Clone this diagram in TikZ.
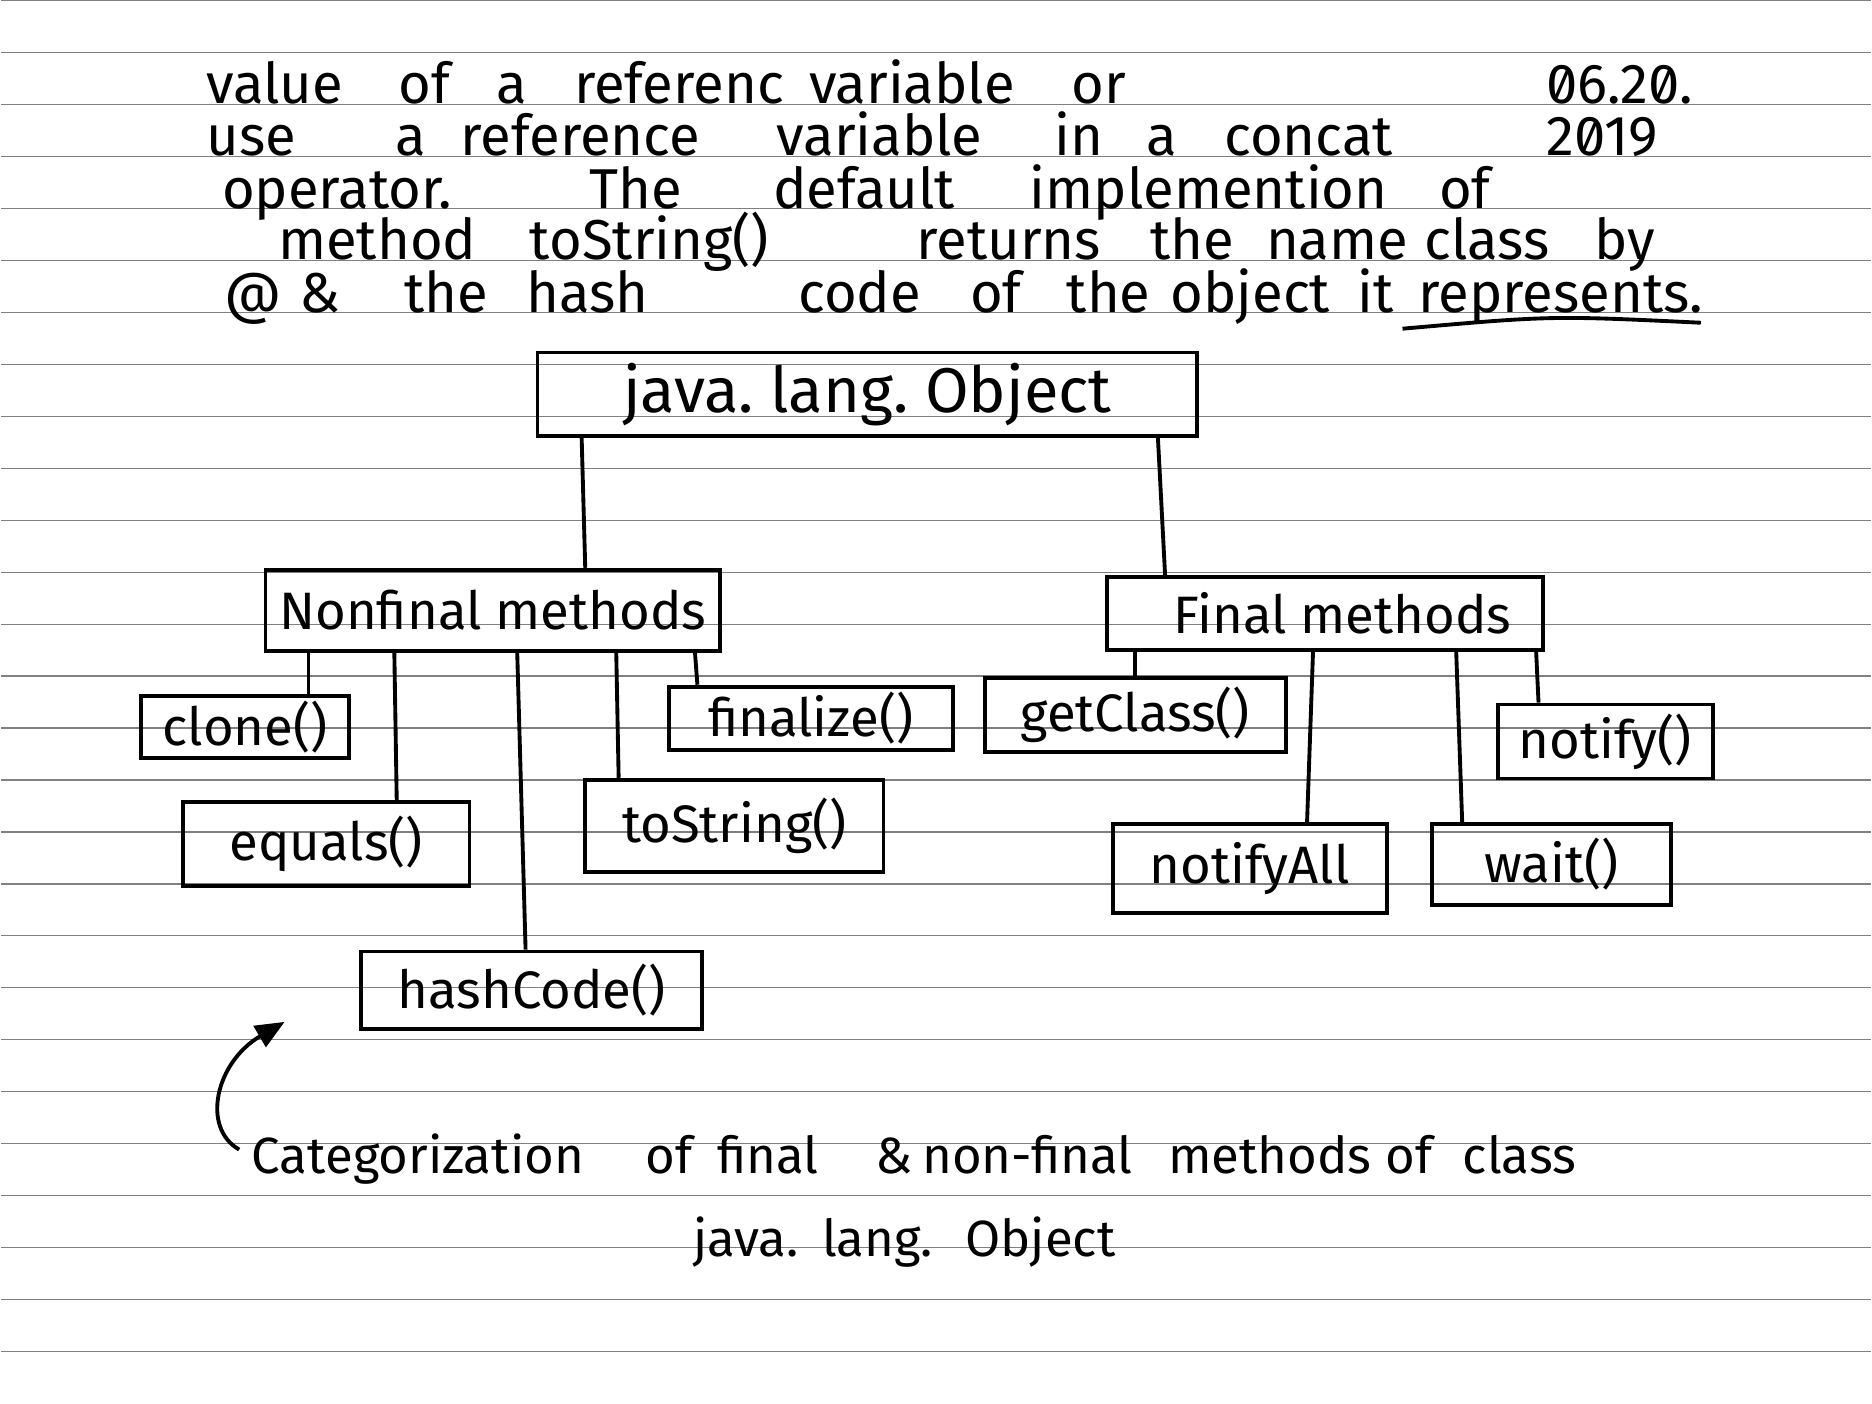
\documentclass[tikz,border=0pt]{standalone}
\usepackage{fontspec}
\setmainfont{Fira Sans}
\newfontfamily\datefont[RawFeature=+zero]{Fira Sans}
\usetikzlibrary{arrows.meta}
\newlength\ux
\setlength\ux{0.1194mm}
\begin{document}
\begin{tikzpicture}[x=0.1194mm, y=-0.1194mm,
  rule/.style={draw=black!50, line width=0.35pt},
  box/.style={draw, line width=1.1pt, inner sep=0pt, font=\fontsize{15}{18}\selectfont},
  bigbox/.style={box, font=\fontsize{18}{21}\selectfont},
  conn/.style={line width=1.1pt},
  word/.style={anchor=base west, inner sep=0pt, font=\fontsize{16}{19}\selectfont},
  capword/.style={anchor=base west, inner sep=0pt, font=\fontsize{14.5}{17}\selectfont}]
% page and ruled lines
\fill[white] (0,0) rectangle (1568,1176);
\foreach \k in {0,...,26} \draw[rule] (0,{\k*43.55}) -- (1568,{\k*43.55});

% top text
\foreach \x/\w [count=\i] in {172/value, 333/of, 415/a, 480/referenc, 677/variable, 897/or}
  \node[word] (la\i) at (\x,86) {\w};
\node[word, font=\fontsize{16}{19}\datefont] (date1) at (1295,86) {06.20.};
\foreach \x/\w [count=\i] in {172/use, 330/a, 385/reference, 650/variable, 883/in, 960/a, 1025/concat}
  \node[word] (lb\i) at (\x,130) {\w};
\node[word, font=\fontsize{16}{19}\datefont] (date2) at (1295,130) {2019};
\foreach \x/\w [count=\i] in {185/operator., 493/The, 647/default, 862/implemention, 1205/of}
  \node[word] (lc\i) at (\x,174) {\w};
\foreach \x/\w [count=\i] in {232/method, 443/toString(), 767/returns, 963/the, 1060/name, 1193/class, 1335/by}
  \node[word] (ld\i) at (\x,217) {\w};
\foreach \x/\w [count=\i] in {187/@, 250/\&, 338/the, 440/hash, 668/code, 812/of, 893/the, 980/object, 1137/it, 1188/represents.}
  \node[word] (le\i) at (\x,261) {\w};
\draw[conn] (1175,275) .. controls (1300,264) .. (1425,270);

% boxes
\node[bigbox, minimum width=553\ux, minimum height=70\ux] (obj) at (726.5,330) {java.\ lang.\ Object};
\node[box, minimum width=381\ux, minimum height=68\ux] (nf) at (412.5,511) {Nonfinal methods};
\node[box, minimum width=366\ux, minimum height=61\ux] (fm) at (1110,513.5) {\hspace*{3.5mm}Final methods};
\node[box, minimum width=174\ux, minimum height=52\ux] (clone) at (205,609) {clone()};
\node[box, minimum width=240\ux, minimum height=70\ux] (equals) at (273,707) {equals()};
\node[box, minimum width=286\ux, minimum height=65\ux] (hash) at (445,829.5) {hashCode()};
\node[box, minimum width=250\ux, minimum height=77\ux] (tostr) at (615,691.5) {toString()};
\node[box, minimum width=238\ux, minimum height=53\ux] (final) at (679,601.5) {finalize()};
\node[box, minimum width=252\ux, minimum height=62\ux] (getc) at (951,599) {getClass()};
\node[box, minimum width=180\ux, minimum height=62\ux] (notify) at (1345,621) {notify()};
\node[box, minimum width=230\ux, minimum height=75\ux] (nall) at (1047,727.5) {notifyAll};
\node[box, minimum width=200\ux, minimum height=68\ux] (wait) at (1300,724) {wait()};

% connectors
\draw[conn] (obj.south -| 487,0) -- (nf.north -| 490,0);
\draw[conn] (obj.south -| 970,0) -- (fm.north -| 976,0);
\draw[conn] (nf.south -| 258,0) -- (clone.north -| 258,0);
\draw[conn] (nf.south -| 330,0) -- (equals.north -| 332,0);
\draw[conn] (nf.south -| 433,0) -- (hash.north -| 440,0);
\draw[conn] (nf.south -| 516,0) -- (tostr.north -| 518,0);
\draw[conn] (nf.south -| 582,0) -- (final.north -| 584,0);
\draw[conn] (fm.south -| 951,0) -- (getc.north -| 951,0);
\draw[conn] (fm.south -| 1100,0) -- (nall.north -| 1095,0);
\draw[conn] (fm.south -| 1220,0) -- (wait.north -| 1225,0);
\draw[conn] (fm.south -| 1287,0) -- (notify.north -| 1289,0);

% caption and arrow
\foreach \x/\w [count=\i] in {210/Categorization, 540/of, 600/final, 733/\&, 772/non-final, 978/methods, 1160/of, 1225/class}
  \node[capword] (ca\i) at (\x,983) {\w};
\foreach \x/\w [count=\i] in {580/java., 688/lang., 808/Object}
  \node[capword] (cb\i) at (\x,1053) {\w};
\coordinate (arrs) at (200,963);
\coordinate (arrt) at (238,856);
\draw[conn, -{Triangle[length=2.9mm, width=2.4mm]}] (arrs) .. controls (168,945) and (180,890) .. (arrt);
\end{tikzpicture}
\end{document}
